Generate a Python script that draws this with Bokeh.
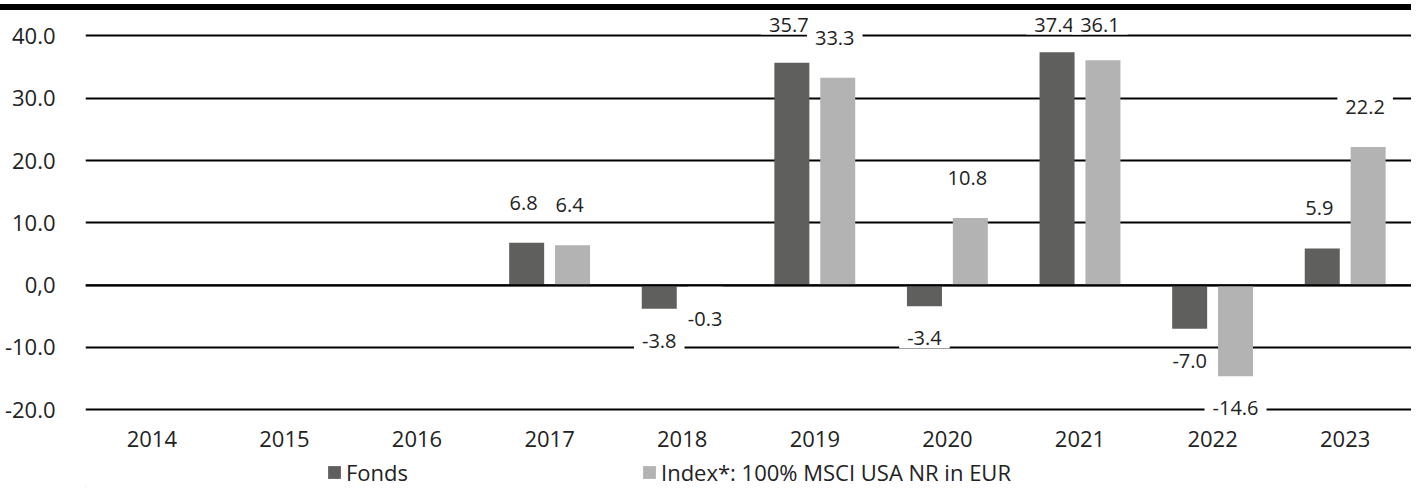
from bokeh.plotting import figure
from bokeh.models import (ColumnDataSource, FactorRange, Range1d, FixedTicker,
                          Span, Legend, LegendItem, CustomJSTickFormatter, Div)
from bokeh.core.properties import value
from bokeh.layouts import column
from bokeh.transform import dodge
from bokeh.embed import file_html
from bokeh.resources import INLINE

years = ["2014", "2015", "2016", "2017", "2018", "2019", "2020", "2021", "2022", "2023"]
fonds = [None, None, None, 6.8, -3.8, 35.7, -3.4, 37.4, -7.0, 5.9]
index = [None, None, None, 6.4, -0.3, 33.3, 10.8, 36.1, -14.6, 22.2]
series_names = ["Fonds", "Index*: 100% MSCI USA NR in EUR"]
y_ticks = [-20, -10, 0, 10, 20, 30, 40]

C_FONDS = "#5f5f5d"
C_INDEX = "#b3b3b3"
TXT = "#222222"
FONT = "Open Sans"
W = 1411

Y_START, Y_END = -22.36, 44.09
FIG_H = 446
FRAME_H = 414
SCALE = FRAME_H / (Y_END - Y_START)   # px per unit
POS_OFF = 40 / SCALE
NEG_OFF = 32 / SCALE
Y_CLAMP = Y_END - 14 / SCALE

def make_src(vals):
    xs, ys, labs, ly, xo = [], [], [], [], []
    for y, v in zip(years, vals):
        if v is None:
            continue
        xs.append(y)
        ys.append(v)
        labs.append(f"{v:.1f}")
        ly.append(min(v + POS_OFF, Y_CLAMP) if v >= 0 else v - NEG_OFF)
        xo.append(-3 if v >= 0 else 0)
    return ColumnDataSource(dict(x=xs, top=ys, lab=labs, ly=ly, xo=xo))

src_f = make_src(fonds)
src_i = make_src(index)

def bare(fig):
    fig.outline_line_color = None
    fig.background_fill_color = "white"
    fig.border_fill_color = "white"

band = Div(width=W, height=6, margin=(4, 0, 0, 0), styles={"background-color": "black"})

p = figure(x_range=FactorRange(*years), y_range=Range1d(Y_START, Y_END),
           width=W, height=FIG_H, output_backend="svg", toolbar_location=None,
           min_border_left=85, min_border_right=0, min_border_top=0,
           min_border_bottom=FIG_H - FRAME_H)
bare(p)

p.xgrid.visible = False
p.ygrid.ticker = FixedTicker(ticks=y_ticks)
p.ygrid.grid_line_color = "black"
p.ygrid.grid_line_width = 2

p.yaxis.ticker = FixedTicker(ticks=y_ticks)
p.yaxis.formatter = CustomJSTickFormatter(code="return tick == 0 ? '0,0' : tick.toFixed(1);")
for ax in (p.xaxis[0], p.yaxis[0]):
    ax.axis_line_color = None
    ax.major_tick_line_color = None
    ax.minor_tick_line_color = None
    ax.major_label_text_font = FONT
    ax.major_label_text_font_size = "22px"
    ax.major_label_text_color = TXT
p.yaxis.major_label_standoff = 24
p.xaxis.major_label_standoff = 0

bw = 0.264
off = 0.173
p.vbar(x=dodge("x", -off, range=p.x_range), top="top", bottom=0, width=bw,
       source=src_f, fill_color=C_FONDS, line_color=None)
p.vbar(x=dodge("x", off, range=p.x_range), top="top", bottom=0, width=bw,
       source=src_i, fill_color=C_INDEX, line_color=None)

for src, o in ((src_f, -off), (src_i, off)):
    p.text(x=dodge("x", o, range=p.x_range), y="ly", text="lab", source=src,
           x_offset="xo", text_align="center", text_baseline="middle",
           text_font=value(FONT), text_font_size="20px", text_color=TXT,
           background_fill_color="white", padding=(8, 3))

p.add_layout(Span(location=0, dimension="width", line_color="black", line_width=2))

# legend strip
LG_H = 31
lg = figure(width=W, height=LG_H, output_backend="svg", toolbar_location=None,
            x_range=Range1d(0, W), y_range=Range1d(0, LG_H), min_border=0,
            x_axis_location=None, y_axis_location=None)
bare(lg)
lg.grid.visible = False
d_f = lg.vbar(x=[-50], top=[1], width=1, fill_color=C_FONDS, line_color=None)
d_i = lg.vbar(x=[-50], top=[1], width=1, fill_color=C_INDEX, line_color=None)
legend = Legend(items=[LegendItem(label=series_names[0], renderers=[d_f]),
                       LegendItem(label=series_names[1], renderers=[d_i])],
                orientation="horizontal", location=(241, 0),
                glyph_width=16, glyph_height=16, label_standoff=4, label_width=295,
                spacing=0, padding=0, margin=0,
                label_text_font=FONT, label_text_font_size="22px", label_text_color=TXT,
                border_line_color=None, background_fill_alpha=0)
lg.add_layout(legend, "center")

layout = column(band, p, lg, spacing=0)

open("out.html", "w").write(file_html(layout, INLINE))
